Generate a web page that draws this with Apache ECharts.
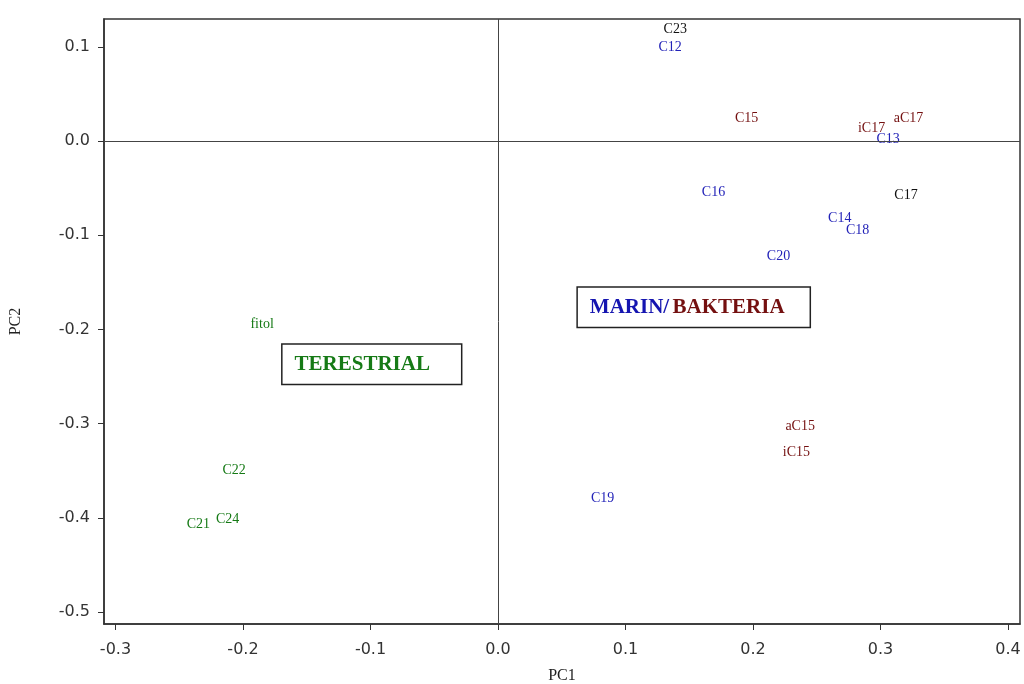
<!DOCTYPE html>
<html>
<head>
<meta charset="utf-8">
<script src="https://cdn.jsdelivr.net/npm/echarts@6/dist/echarts.min.js"></script>
<style>html,body{margin:0;padding:0;background:#fff}#c{width:1024px;height:684px}</style>
</head>
<body>
<div id="c"></div>
<script>
// ---- data ----
const blueNames = ['C12', 'C13', 'C16', 'C14', 'C18', 'C20', 'C19'];
const blueX     = [0.135, 0.306, 0.169, 0.268, 0.282, 0.220, 0.082];
const blueY     = [0.100, 0.002, -0.054, -0.082, -0.095, -0.122, -0.379];

const redNames = ['C15', 'iC17', 'aC17', 'aC15', 'iC15'];
const redX     = [0.195, 0.293, 0.322, 0.237, 0.234];
const redY     = [0.024, 0.014, 0.024, -0.303, -0.330];

const blackNames = ['C23', 'C17'];
const blackX     = [0.139, 0.320];
const blackY     = [0.119, -0.057];

const greenNames = ['fitol', 'C22', 'C21', 'C24'];
const greenX     = [-0.185, -0.207, -0.235, -0.212];
const greenY     = [-0.194, -0.350, -0.407, -0.402];

const xTicks = [-0.3, -0.2, -0.1, 0.0, 0.1, 0.2, 0.3, 0.4];
const yTicks = [-0.5, -0.4, -0.3, -0.2, -0.1, 0.0, 0.1];

const boxTerX = -0.099, boxTerY = -0.237;
const boxMarX = 0.1535, boxMarY = -0.1765;

// ---- chart ----
const serif = '"Liberation Serif", "DejaVu Serif", serif';
function pts(xs, ys, names) { return xs.map((x, i) => ({ value: [x, ys[i]], name: names[i] })); }
function labelSeries(name, xs, ys, names, color) {
  return {
    type: 'scatter', name: name, symbolSize: 1, itemStyle: { color: 'rgba(0,0,0,0)', opacity: 1 },
    data: pts(xs, ys, names), silent: true,
    label: { show: true, position: 'inside', formatter: p => p.name, color: color,
             fontFamily: serif, fontSize: 14 }
  };
}
const chart = echarts.init(document.getElementById('c'), null, { renderer: 'canvas' });
chart.setOption({
  animation: false,
  backgroundColor: '#fff',
  grid: { left: 104, right: 4, top: 19, bottom: 60, show: true, borderColor: '#333', borderWidth: 1.5,
          backgroundColor: 'transparent', outerBoundsMode: 'none', containLabel: false },
  xAxis: {
    type: 'value', min: -0.309, max: 0.4094,
    name: 'PC1', nameLocation: 'middle', nameGap: 44,
    nameTextStyle: { fontFamily: serif, fontSize: 16, color: '#222' },
    axisLine: { show: true, onZero: false, lineStyle: { color: '#333', width: 1.5 } },
    axisTick: { show: true, length: 6, customValues: xTicks, lineStyle: { color: '#333' } },
    axisLabel: { customValues: xTicks, formatter: v => v.toFixed(1), margin: 18,
                 fontFamily: '"DejaVu Sans", sans-serif', fontSize: 16, color: '#333' },
    splitLine: { show: false }
  },
  yAxis: {
    type: 'value', min: -0.5127, max: 0.1297,
    name: 'PC2', nameLocation: 'middle', nameGap: 80, nameRotate: 90,
    nameTextStyle: { fontFamily: serif, fontSize: 16, color: '#222' },
    axisLine: { show: true, onZero: false, lineStyle: { color: '#333', width: 1.5 } },
    axisTick: { show: true, length: 6, customValues: yTicks, lineStyle: { color: '#333' } },
    axisLabel: { customValues: yTicks, formatter: v => v.toFixed(1), margin: 14,
                 fontFamily: '"DejaVu Sans", sans-serif', fontSize: 16, color: '#333' },
    splitLine: { show: false }
  },
  series: [
    {
      type: 'scatter', name: 'zero', data: [], silent: true,
      markLine: { silent: true, symbol: 'none', label: { show: false },
        lineStyle: { color: '#444', width: 1, type: 'solid', opacity: 1 },
        data: [{ xAxis: 0 }, { yAxis: 0 }] }
    },
    labelSeries('blue', blueX, blueY, blueNames, '#2323b8'),
    labelSeries('red', redX, redY, redNames, '#741010'),
    labelSeries('black', blackX, blackY, blackNames, '#111'),
    labelSeries('green', greenX, greenY, greenNames, '#167a16'),
    {
      type: 'scatter', name: 'boxes', symbolSize: 1, itemStyle: { color: 'rgba(0,0,0,0)', opacity: 1 }, silent: true,
      data: [
        { value: [boxTerX, boxTerY], label: { formatter: '{g|TERESTRIAL}', padding: [9, 31, 9, 12] } },
        { value: [boxMarX, boxMarY], label: { formatter: '{b|MARIN/} {r|BAKTERIA}', padding: [9, 25, 9, 12] } }
      ],
      label: { show: true, position: 'inside', backgroundColor: '#fff', borderColor: '#222', borderWidth: 1.5,
        rich: {
          g: { color: '#167a16', fontFamily: serif, fontWeight: 'bold', fontSize: 21 },
          b: { color: '#1515b0', fontFamily: serif, fontWeight: 'bold', fontSize: 21 },
          r: { color: '#741010', fontFamily: serif, fontWeight: 'bold', fontSize: 21 }
        } }
    }
  ]
});
</script>
</body>
</html>
